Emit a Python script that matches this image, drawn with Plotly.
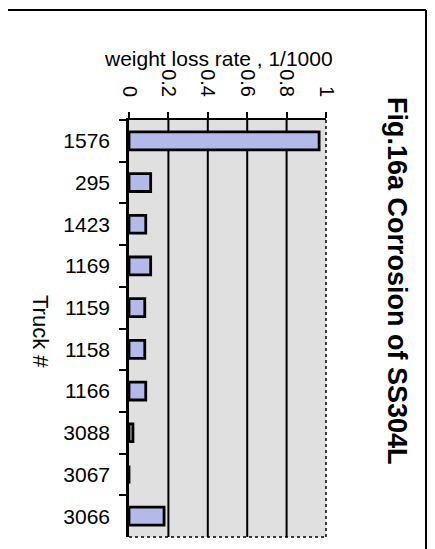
import plotly.graph_objects as go

trucks = ["1576", "295", "1423", "1169", "1159", "1158", "1166", "3088", "3067", "3066"]
loss_rate = [0.965, 0.11, 0.085, 0.11, 0.08, 0.08, 0.085, 0.02, 0.0, 0.178]
x_ticks = [0, 0.2, 0.4, 0.6, 0.8, 1]
x_tick_labels = ["0", "0.2", "0.4", "0.6", "0.8", "1"]

OFF = 8  # page body margin offset
W, H = 435 - OFF, 549 - OFF
# plot area in screen pixels (reference)
SX0, SX1, SY0, SY1 = 129, 326, 120, 537
L, T = SX0 - OFF, SY0 - OFF
R, B = W - (SX1 - OFF), H - (SY1 - OFF)
PW, PH = W - L - R, H - T - B

def px(xs):
    return (xs - OFF - L) / PW

def py(ys):
    return (H - B - (ys - OFF)) / PH

FONT = "Liberation Sans, Arial, sans-serif"

fig = go.Figure(
    go.Bar(
        y=trucks,
        x=loss_rate,
        orientation="h",
        width=0.43,
        marker=dict(color="#b3b9e9", line=dict(color="black", width=2.8)),
    )
)

shapes = []
for v in x_ticks[1:-1]:
    shapes.append(dict(type="line", xref="x", yref="paper", x0=v, x1=v, y0=0, y1=1,
                       line=dict(color="black", width=2), layer="below"))
# dotted right and bottom edges of plot area
shapes.append(dict(type="line", xref="paper", yref="paper", x0=1, x1=1, y0=0, y1=1,
                   line=dict(color="black", width=1.5, dash="dot")))
shapes.append(dict(type="line", xref="paper", yref="paper", x0=0, x1=1, y0=0, y1=0,
                   line=dict(color="black", width=1.5, dash="dot")))
# outer frame (top and right)
FR = 426
shapes.append(dict(type="line", xref="paper", yref="paper", x0=px(0), x1=px(FR), y0=py(10), y1=py(10),
                   line=dict(color="black", width=2)))
shapes.append(dict(type="line", xref="paper", yref="paper", x0=px(FR), x1=px(FR), y0=py(10), y1=py(549),
                   line=dict(color="black", width=2)))

fig.update_layout(
    width=W,
    height=H,
    margin=dict(l=L, r=R, t=T, b=B, autoexpand=False),
    paper_bgcolor="white",
    plot_bgcolor="#e0e0e0",
    showlegend=False,
    font=dict(family=FONT, color="black"),
    shapes=shapes,
    xaxis=dict(
        side="top",
        range=[0, 1],
        tickvals=x_ticks,
        ticktext=x_tick_labels,
        tickangle=90,
        ticks="outside",
        ticklen=6,
        tickwidth=1.5,
        tickcolor="black",
        tickfont=dict(size=20, family=FONT),
        ticklabelstandoff=8,
        showline=True,
        linecolor="black",
        linewidth=2,
        showgrid=False,
        zeroline=False,
        automargin=False,
    ),
    yaxis=dict(
        type="category",
        categoryorder="array",
        categoryarray=trucks,
        autorange="reversed",
        ticks="outside",
        tickson="boundaries",
        ticklen=7,
        tickwidth=1.5,
        tickcolor="black",
        tickfont=dict(size=21, family=FONT),
        ticklabelstandoff=12,
        showline=True,
        linecolor="black",
        linewidth=2.5,
        showgrid=False,
        zeroline=False,
        automargin=False,
    ),
    annotations=[
        dict(text="weight loss rate , 1/1000", xref="paper", yref="paper",
             x=px(218), y=py(58), showarrow=False, font=dict(size=21, family=FONT),
             xanchor="center", yanchor="middle"),
        dict(text="Truck #", xref="paper", yref="paper", x=px(41), y=py(331),
             textangle=90, showarrow=False, font=dict(size=22, family=FONT),
             xanchor="center", yanchor="middle"),
        dict(text="<b>Fig.16a Corrosion of SS304L</b>", xref="paper", yref="paper",
             x=px(397), y=py(281), textangle=90, showarrow=False,
             font=dict(size=27, family=FONT), xanchor="center", yanchor="middle"),
    ],
)

fig.write_html(
    "out.html",
    post_script="document.documentElement.style.overflow='hidden';document.body.style.overflow='hidden';",
)
